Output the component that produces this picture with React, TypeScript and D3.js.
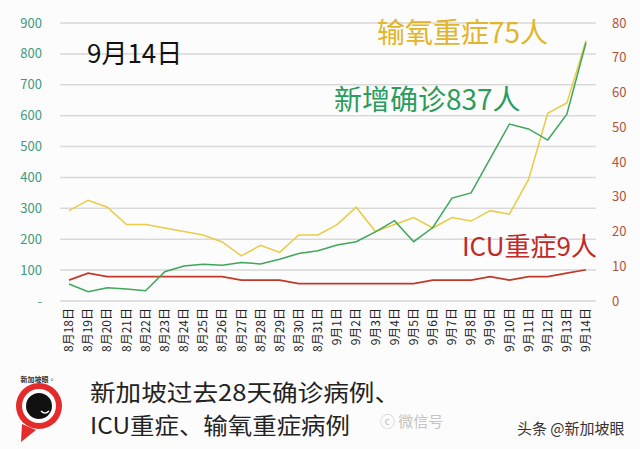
import React from "react";
import * as d3 from "d3";

const dates = [
  "8月18日","8月19日","8月20日","8月21日","8月22日","8月23日","8月24日","8月25日","8月26日","8月27日",
  "8月28日","8月29日","8月30日","8月31日","9月1日","9月2日","9月3日","9月4日","9月5日","9月6日",
  "9月7日","9月8日","9月9日","9月10日","9月11日","9月12日","9月13日","9月14日",
];
const newCases = [55,30,43,39,33,95,113,119,116,125,120,135,154,163,181,192,224,260,192,238,333,350,462,573,557,521,605,837];
const oxygen = [26,29,27,22,22,21,20,19,17,13,16,14,19,19,22,27,20,22,24,21,24,23,26,25,35,54,57,75];
const icu = [6,8,7,7,7,7,7,7,7,6,6,6,5,5,5,5,5,5,5,6,6,6,7,6,7,7,8,9];
const leftTicks = [0,100,200,300,400,500,600,700,800,900];
const rightTicks = [0,10,20,30,40,50,60,70,80];

const FONT = "'Noto Sans CJK SC', 'Noto Sans', sans-serif";

export default function App() {
  const W = 640, H = 449;
  const x = d3.scalePoint<string>().domain(dates).range([69, 586]);
  const yL = d3.scaleLinear().domain([0, 900]).range([301, 23]);
  const yR = d3.scaleLinear().domain([0, 80]).range([301, 23]);
  const lineL = d3.line<number>().x((_, i) => x(dates[i])!).y((d) => yL(d));
  const lineR = d3.line<number>().x((_, i) => x(dates[i])!).y((d) => yR(d));

  return (
    <svg width={W} height={H} style={{ position: "absolute", left: 0, top: 0, background: "#fcfcfc" }} fontFamily={FONT}>
      <rect x={0} y={0} width={W} height={H} fill="#fcfcfc" />
      {leftTicks.map((t) => (
        <line key={"g" + t} x1={60} x2={596} y1={yL(t)} y2={yL(t)} stroke="#d9d9d9" strokeWidth={1.5} />
      ))}
      {leftTicks.map((t) => (
        <text key={"l" + t} x={42} y={yL(t)} dy="0.35em" textAnchor="end" fontSize={13} fill="#3f9a7e">
          {t === 0 ? "-" : t}
        </text>
      ))}
      {rightTicks.map((t) => (
        <text key={"r" + t} x={612} y={yR(t)} dy="0.35em" textAnchor="start" fontSize={13} fill="#b3523a">
          {t}
        </text>
      ))}
      {dates.map((d) => (
        <text key={"x" + d} transform={`translate(${x(d)},308) rotate(-90)`} textAnchor="end" dy="0.35em" fontSize={12} fill="#222">
          {d}
        </text>
      ))}
      <path d={lineR(icu)!} fill="none" stroke="#c0392b" strokeWidth={1.7} />
      <path d={lineR(oxygen)!} fill="none" stroke="#e8cc45" strokeWidth={1.5} />
      <path d={lineL(newCases)!} fill="none" stroke="#3fa65c" strokeWidth={1.5} />

      <text x={87} y={63} fontSize={26} fill="#111">9月14日</text>
      <text x={377} y={43} fontSize={28} fill="#e2b52c">输氧重症75人</text>
      <text x={334} y={110} fontSize={28} fill="#2a9d5c">新增确诊837人</text>
      <text x={462} y={256} fontSize={26} fill="#c0282a">ICU重症9人</text>

      <text x={90} y={401} fontSize={22.5} fill="#222" textLength={310} lengthAdjust="spacingAndGlyphs">新加坡过去28天确诊病例、</text>
      <text x={90} y={434} fontSize={22.5} fill="#222" textLength={260} lengthAdjust="spacingAndGlyphs">ICU重症、输氧重症病例</text>

      <g>
        <path d="M 22 424 L 21 442 L 36 430 Z" fill="#e32b2b" />
        <circle cx={39} cy={406} r={23} fill="#e32b2b" />
        <circle cx={39} cy={406} r={17} fill="#fff" />
        <circle cx={39} cy={406} r={13} fill="#111" />
        <path d="M 41 411 Q 45 415 49 411" stroke="#fff" strokeWidth={1.2} fill="none" />
        <text x={38} y={382} fontSize={7} fill="#333" textAnchor="middle" fontWeight="bold">新加坡眼◦</text>
      </g>

      <text x={380} y={427} fontSize={15} fill="#c4c4c4">ⓒ 微信号</text>
      <text x={517} y={434} fontSize={15} fill="#333">头条 @新加坡眼</text>
    </svg>
  );
}
